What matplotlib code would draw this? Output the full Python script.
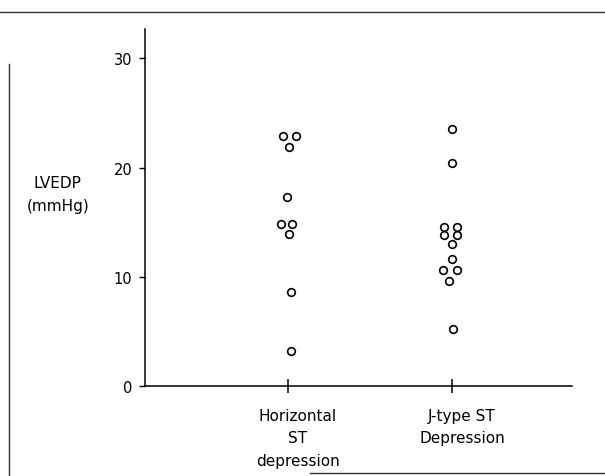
import matplotlib
matplotlib.use('Agg')
import matplotlib.pyplot as plt
from matplotlib.lines import Line2D

# LVEDP values
groups = ['Horizontal\nST\ndepression', 'J-type ST\nDepression']
group_pos = [1, 2]

horiz_x = [0.970, 1.049, 1.006, 0.994, 0.957, 1.024, 1.006, 1.018, 1.018]
horiz_y = [22.9, 22.9, 21.9, 17.3, 14.8, 14.8, 13.9, 8.6, 3.2]

jtype_x = [2.0, 2.0, 1.951, 2.030, 1.951, 2.030, 2.0, 2.0, 1.945, 2.030, 1.982, 2.006]
jtype_y = [23.5, 20.4, 14.6, 14.6, 13.8, 13.8, 13.0, 11.6, 10.6, 10.6, 9.6, 5.2]

yticks = [0, 10, 20, 30]

plt.rcParams['font.family'] = ['DejaVu Sans']

fig = plt.figure(figsize=(6.05, 4.77), dpi=100)
ax = fig.add_axes([145 / 605, 90 / 477, 427 / 605, 357 / 477])

ax.plot(horiz_x, horiz_y, 'o', mfc='white', mec='black', ms=5.5, mew=1.2)
ax.plot(jtype_x, jtype_y, 'o', mfc='white', mec='black', ms=5.5, mew=1.2)

ax.set_xlim(0.128, 2.732)
ax.set_ylim(0, 32.7)

ax.spines['top'].set_visible(False)
ax.spines['right'].set_visible(False)
ax.spines['left'].set_linewidth(1.1)
ax.spines['bottom'].set_linewidth(1.1)

ax.set_yticks(yticks)
ax.tick_params(axis='y', direction='out', length=4, width=1, pad=5, labelsize=10.5)
ax.set_xticks(group_pos)
ax.set_xticklabels(['', ''])
ax.tick_params(axis='x', direction='inout', length=10, width=1.1)

for p, lab in zip(group_pos, groups):
    ax.text(p + 10 / 164, -0.062, lab, transform=ax.get_xaxis_transform(),
            ha='center', va='top', multialignment='center',
            fontsize=11, linespacing=1.6)

ax.text(-0.204, 0.538, 'LVEDP\n(mmHg)', transform=ax.transAxes,
        ha='center', va='center', multialignment='center',
        fontsize=11, linespacing=1.7)

# edges of the scanned page
fig.add_artist(Line2D([0.0, 1.0], [1 - 13 / 477, 1 - 13 / 477], color='#333333', lw=1.0))
fig.add_artist(Line2D([9 / 605, 9 / 605], [0.0, 1 - 65 / 477], color='#333333', lw=1.0))
fig.add_artist(Line2D([310 / 605, 1.0], [3 / 477, 3 / 477], color='#333333', lw=1.0))

plt.savefig('out.png', dpi=100)
